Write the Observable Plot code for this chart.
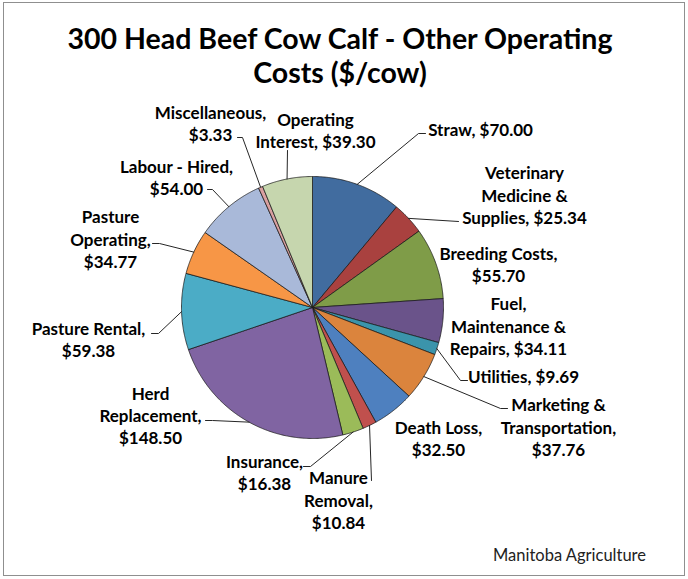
<!DOCTYPE html>
<html>
<head>
<meta charset="utf-8">
<script src="https://cdn.jsdelivr.net/npm/d3@7"></script>
<script src="https://cdn.jsdelivr.net/npm/@observablehq/plot@0.6"></script>
<style>
  html, body { margin: 0; padding: 0; background: #fff; }
  body { width: 688px; height: 579px; position: relative; overflow: hidden; font-family: Lato, "Open Sans", sans-serif; }
  #frame { position: absolute; left: 3px; top: 2px; width: 682px; height: 574px; border: 1px solid #8f8f8f; box-sizing: border-box; }
  #title { position: absolute; left: 0; top: 21px; width: 680px; text-align: center; font-weight: 700; font-size: 28.5px; line-height: 34px; color: #000; }
  #chart { position: absolute; left: 0; top: 98px; }
  #caption { position: absolute; left: 493px; top: 545px; font-size: 16.5px; color: #222; }
</style>
</head>
<body>
<div id="frame"></div>
<div id="title">300 Head Beef Cow Calf - Other Operating<br>Costs ($/cow)</div>
<div id="chart"></div>
<div id="caption">Manitoba Agriculture</div>
<script>
// ---- data ----
const categories = [
  "Straw", "Veterinary Medicine & Supplies", "Breeding Costs", "Fuel, Maintenance & Repairs",
  "Utilities", "Marketing & Transportation", "Death Loss", "Manure Removal", "Insurance",
  "Herd Replacement", "Pasture Rental", "Pasture Operating", "Labour - Hired",
  "Miscellaneous", "Operating Interest"
];
const values = [70.00, 25.34, 55.70, 34.11, 9.69, 37.76, 32.50, 10.84, 16.38, 148.50, 59.38, 34.77, 54.00, 3.33, 39.30];
const labelLines = [
  ["Straw, $70.00"],
  ["Veterinary", "Medicine &", "Supplies, $25.34"],
  ["Breeding Costs,", "$55.70"],
  ["Fuel,", "Maintenance &", "Repairs, $34.11"],
  ["Utilities, $9.69"],
  ["Marketing &", "Transportation,", "$37.76"],
  ["Death Loss,", "$32.50"],
  ["Manure", "Removal,", "$10.84"],
  ["Insurance,", "$16.38"],
  ["Herd", "Replacement,", "$148.50"],
  ["Pasture Rental,", "$59.38"],
  ["Pasture", "Operating,", "$34.77"],
  ["Labour - Hired,", "$54.00"],
  ["Miscellaneous,", "$3.33"],
  ["Operating", "Interest, $39.30"]
];
const colors = [
  "#416c9f", "#a9413f", "#7f9c48", "#6a538a", "#3b94ab", "#db843d",
  "#4e80bf", "#c0504d", "#9bbb59", "#8064a2", "#4bacc6", "#f79646",
  "#a9b9d9", "#d9a0a0", "#c6d6ae"
];

// ---- layout (pixel offsets from the pie centre, y up) ----
const R = 131;
const labelAnchor = [
  [168, 179], [212, 113], [186, 43.5], [196, -18], [211, -68], [246, -119], [126, -130.5],
  [26, -192], [-48, -164.5], [-162, -107.5], [-224, -31], [-202, 69], [-136, 131], [-102, 184.5], [3, 178]
];
// leader line points on the label side (null = no leader)
const leaderEnds = [
  [[113, 174], [106, 174]],
  [[146, 86]],
  null,
  null,
  [[155, -73], [148, -73]],
  [[195, -101], [188, -101]],
  null,
  [[59, -173]],
  [[-9, -159], [-2, -159]],
  [[-107, -113], [-100, -113]],
  [[-161, -26], [-154, -26]],
  [[-160, 64], [-153, 64]],
  [[-105, 118], [-100, 118]],
  [[-75, 170], [-70, 170]],
  [[-25, 157]]
];

// ---- build geometry from the data ----
const total = d3.sum(values);
let acc = 0;
const slices = values.map((v, i) => {
  const a0 = acc / total * 2 * Math.PI;
  acc += v;
  const a1 = acc / total * 2 * Math.PI;
  return {label: categories[i], a0, a1, mid: (a0 + a1) / 2};
});
const slicePts = [];
slices.forEach(s => {
  slicePts.push({label: s.label, x: 0, y: 0});
  const n = Math.max(2, Math.ceil((s.a1 - s.a0) / (Math.PI / 360)));
  for (let k = 0; k <= n; k++) {
    const a = s.a0 + (s.a1 - s.a0) * k / n;
    slicePts.push({label: s.label, x: R * Math.sin(a), y: R * Math.cos(a)});
  }
  slicePts.push({label: s.label, x: 0, y: 0});
});
const leaderPts = [];
slices.forEach((s, i) => {
  if (!leaderEnds[i]) return;
  leaderEnds[i].forEach(p => leaderPts.push({label: s.label, x: p[0], y: p[1]}));
  leaderPts.push({label: s.label, x: R * Math.sin(s.mid), y: R * Math.cos(s.mid)});
});
const labels = slices.map((s, i) => ({
  label: s.label, text: labelLines[i].join("\n"), x: labelAnchor[i][0], y: labelAnchor[i][1]
}));

const W = 688, H = 450, cx = 312, cy = 209;
const chart = Plot.plot({
  width: W, height: H,
  margin: 0,
  x: {domain: [-cx, W - cx], axis: null},
  y: {domain: [-(H - cy), cy], axis: null},
  color: {domain: categories, range: colors},
  style: {fontFamily: "Lato, 'Open Sans', sans-serif", background: "transparent", overflow: "visible"},
  marks: [
    Plot.line(slicePts, {x: "x", y: "y", z: "label", fill: "label", stroke: "#1a1a1a", strokeWidth: 0.75, strokeLinejoin: "round"}),
    Plot.line(leaderPts, {x: "x", y: "y", z: "label", stroke: "#262626", strokeWidth: 1}),
    Plot.text(labels, {x: "x", y: "y", text: "text", fontSize: 17, fontWeight: "bold", lineHeight: 1.3, lineAnchor: "middle", textAnchor: "middle", fill: "#000"})
  ]
});
document.getElementById("chart").appendChild(chart);
</script>
</body>
</html>
